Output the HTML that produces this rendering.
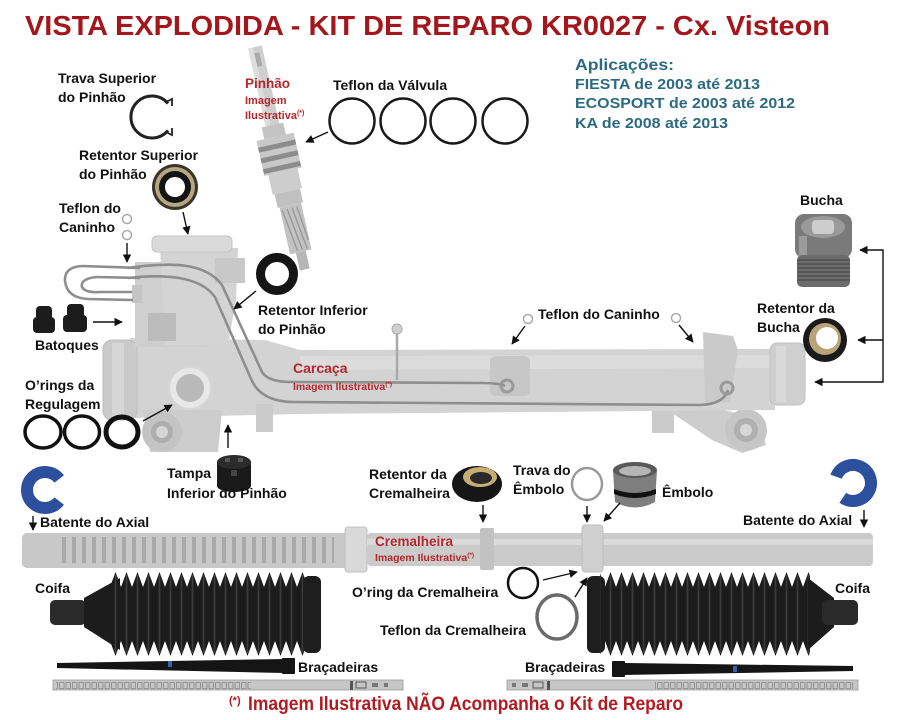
<!DOCTYPE html>
<html><head><meta charset="utf-8">
<style>
html,body{margin:0;padding:0;background:#fff;}
svg{display:block;}
.l{font-family:"Liberation Sans",sans-serif;font-weight:bold;font-size:14px;fill:#111;}
.r{font-family:"Liberation Sans",sans-serif;font-weight:bold;fill:#b3262b;}
.a{font-family:"Liberation Sans",sans-serif;font-weight:bold;fill:#2b6a80;}
.ar{stroke:#111;stroke-width:1.4;fill:none;marker-end:url(#ah);}
</style></head><body>
<svg width="897" height="720" viewBox="0 0 897 720" xmlns="http://www.w3.org/2000/svg">
<defs>
<marker id="ah" viewBox="0 0 10 10" refX="9" refY="5" markerWidth="6" markerHeight="6" orient="auto-start-reverse"><path d="M0,0 L10,5 L0,10 z" fill="#111"/></marker>
<pattern id="bel" patternUnits="userSpaceOnUse" x="0" y="572" width="11" height="84">
 <polygon points="0,15 5.5,0 11,15 11,69 5.5,84 0,69" fill="#1b1b1b"/>
 <line x1="5.5" y1="3" x2="5.5" y2="81" stroke="#3d3d3d" stroke-width="1.6"/>
</pattern>
<pattern id="teeth" patternUnits="userSpaceOnUse" x="0" y="0" width="10" height="40">
 <rect x="0" y="0" width="10" height="40" fill="#c9c9c9"/>
 <rect x="2" y="0" width="4" height="40" fill="#a9a9a9"/>
</pattern>
<pattern id="holes" patternUnits="userSpaceOnUse" x="0" y="681" width="6.5" height="10">
 <rect x="1" y="1.5" width="4.5" height="6" fill="none" stroke="#8a8a8a" stroke-width="0.8"/>
</pattern>
</defs>

<!-- TITLE -->
<text x="25" y="35" font-family="Liberation Sans, sans-serif" font-weight="bold" font-size="28" fill="#a3161b" textLength="805" lengthAdjust="spacingAndGlyphs">VISTA EXPLODIDA - KIT DE REPARO KR0027 - Cx. Visteon</text>

<!-- APLICACOES -->
<text class="a" x="575" y="70" font-size="16" textLength="99" lengthAdjust="spacingAndGlyphs">Aplicações:</text>
<text class="a" x="575" y="89" font-size="14.5" textLength="185" lengthAdjust="spacingAndGlyphs">FIESTA de 2003 até 2013</text>
<text class="a" x="575" y="108" font-size="14.5" textLength="220" lengthAdjust="spacingAndGlyphs">ECOSPORT de 2003 até 2012</text>
<text class="a" x="575" y="128" font-size="14.5" textLength="153" lengthAdjust="spacingAndGlyphs">KA de 2008 até 2013</text>

<!-- HOUSING -->
<g>
 <polygon points="660,405 700,405 760,418 766,445 742,453 712,440" fill="#cdcdcd"/>
 <circle cx="746" cy="430" r="21" fill="#c6c6c6"/>
 <circle cx="746" cy="430" r="12" fill="#b0b0b0"/>
 <circle cx="746" cy="430" r="6" fill="#d8d8d8"/>
 <rect x="652" y="405" width="22" height="28" fill="#cbcbcb"/>
 <polygon points="130,338 265,340 300,350 775,349 775,410 300,414 130,418" fill="#d3d3d3"/>
 <polygon points="300,356 775,355 775,368 300,370" fill="#dcdcdc"/>
 <polygon points="703,332 733,336 738,350 730,402 705,402" fill="#cacaca"/>
 <rect x="490" y="356" width="40" height="40" rx="6" fill="#c7c7c7"/>
 <rect x="770" y="343" width="35" height="62" rx="7" fill="#cfcfcf" stroke="#c2c2c2"/>
 <rect x="776" y="346" width="10" height="56" fill="#d9d9d9"/>
 <polygon points="143,410 222,410 218,452 150,452" fill="#cccccc"/>
 <circle cx="162" cy="432" r="20" fill="#c4c4c4"/>
 <circle cx="162" cy="432" r="11" fill="#adadad"/>
 <circle cx="162" cy="432" r="6" fill="#d6d6d6"/>
 <rect x="256" y="404" width="17" height="28" fill="#cbcbcb"/>
 <rect x="103" y="340" width="34" height="80" rx="9" fill="#cacaca" stroke="#bdbdbd"/>
 <rect x="112" y="343" width="12" height="74" fill="#d6d6d6"/>
 <!-- tower -->
 <rect x="135" y="262" width="72" height="85" fill="#cfcfcf"/>
 <polygon points="160,248 238,248 236,300 228,345 165,345" fill="#d4d4d4"/>
 <rect x="152" y="236" width="80" height="16" rx="5" fill="#dadada" stroke="#c4c4c4"/>
 <rect x="215" y="258" width="30" height="25" fill="#c8c8c8"/>
 <rect x="148" y="313" width="28" height="28" fill="#bcbcbc"/>
 <rect x="132" y="285" width="10" height="18" fill="#c4c4c4"/>
 <!-- adjuster port -->
 <circle cx="190" cy="388" r="21" fill="#e8e8e8" stroke="#d6d6d6" stroke-width="2"/>
 <circle cx="190" cy="388" r="14" fill="#b9b9b9"/>
 <!-- pipes -->
 <g fill="none" stroke="#8e8e8e" stroke-width="2.6">
  <path d="M140,268 L82,266 Q64,267 65,281 Q67,298 88,299 L133,300"/>
  <path d="M140,278 L96,277 Q80,279 82,287 Q85,293 100,292 L132,292"/>
  <path d="M128,268 C170,262 205,262 222,285 L262,372 Q268,382 292,382 L480,383 Q500,383 505,386"/>
  <path d="M128,278 C165,274 200,276 215,297 L252,381 Q262,402 295,402 L700,405 Q724,404 728,390"/>
 </g>
 <circle cx="507" cy="386" r="6" fill="none" stroke="#999" stroke-width="3"/>
 <circle cx="727" cy="388" r="6" fill="none" stroke="#999" stroke-width="3"/>
 <line x1="397" y1="332" x2="397" y2="380" stroke="#aaa" stroke-width="2.5"/>
 <circle cx="397" cy="329" r="5" fill="#d0d0d0" stroke="#aaa"/>
</g>

<!-- PINION -->
<g transform="translate(255,47) rotate(-12.6)">
 <rect x="-7" y="0" width="14" height="85" fill="#cfcfcf"/>
 <rect x="-7" y="0" width="5" height="85" fill="#dedede"/>
 <rect x="-2" y="6" width="5" height="14" fill="#aaaaaa"/>
 <rect x="-11" y="80" width="22" height="12" fill="#c3c3c3"/>
 <rect x="-19" y="92" width="38" height="36" fill="#c8c8c8"/>
 <rect x="-19" y="99" width="38" height="5" fill="#8c8c8c"/>
 <rect x="-19" y="110" width="38" height="5" fill="#8c8c8c"/>
 <rect x="-19" y="121" width="38" height="5" fill="#8c8c8c"/>
 <rect x="-15" y="128" width="30" height="20" fill="#cdcdcd"/>
 <rect x="-13" y="148" width="26" height="14" fill="#c0c0c0"/>
 <rect x="-11" y="162" width="22" height="48" fill="#c2c2c2"/>
 <g stroke="#999" stroke-width="1.4">
  <line x1="-9" y1="165" x2="-3" y2="208"/><line x1="-4" y1="165" x2="2" y2="208"/>
  <line x1="1" y1="165" x2="7" y2="208"/><line x1="6" y1="165" x2="10" y2="200"/>
 </g>
 <rect x="-5" y="210" width="10" height="18" fill="#b6b6b6"/>
</g>

<!-- TOP-LEFT PARTS -->
<text class="l" x="58" y="83">Trava Superior</text>
<text class="l" x="58" y="102">do Pinhão</text>
<path d="M168,103.5 A21,21 0 1 0 168,130.5" fill="none" stroke="#222" stroke-width="3"/>
<path d="M166,102 L172,99 L172,106" fill="none" stroke="#222" stroke-width="1.8"/>
<path d="M166,132 L172,135 L172,128" fill="none" stroke="#222" stroke-width="1.8"/>

<text class="l" x="79" y="160">Retentor Superior</text>
<text class="l" x="79" y="179">do Pinhão</text>
<circle cx="175" cy="187" r="23" fill="#3a3528"/>
<circle cx="175" cy="187" r="20" fill="#b5a684"/>
<circle cx="175" cy="187" r="16" fill="#141414"/>
<circle cx="175" cy="187" r="10" fill="#fff"/>
<line class="ar" x1="183" y1="212" x2="188" y2="234"/>

<text class="l" x="59" y="213">Teflon do</text>
<text class="l" x="59" y="232">Caninho</text>
<circle cx="127" cy="219" r="4.5" fill="none" stroke="#aaa" stroke-width="1.5"/>
<circle cx="127" cy="235" r="4.5" fill="none" stroke="#aaa" stroke-width="1.5"/>
<line class="ar" x1="127" y1="243" x2="127" y2="262"/>

<!-- Batoques -->
<rect x="36" y="306" width="16" height="14" rx="4" fill="#1c1c1c"/>
<rect x="33" y="317" width="22" height="16" rx="4" fill="#1c1c1c"/>
<rect x="67" y="304" width="17" height="14" rx="4" fill="#1c1c1c"/>
<rect x="63" y="315" width="24" height="17" rx="4" fill="#1c1c1c"/>
<text class="l" x="35" y="350">Batoques</text>
<line class="ar" x1="93" y1="322" x2="122" y2="322"/>

<!-- O-rings regulagem -->
<text class="l" x="25" y="390">O’rings da</text>
<text class="l" x="25" y="409">Regulagem</text>
<ellipse cx="43" cy="432" rx="18" ry="16" fill="none" stroke="#111" stroke-width="3.5"/>
<ellipse cx="82" cy="432" rx="17.5" ry="16" fill="none" stroke="#111" stroke-width="3.5"/>
<ellipse cx="122" cy="432" rx="16" ry="15" fill="none" stroke="#111" stroke-width="5"/>
<line class="ar" x1="143" y1="421" x2="172" y2="405"/>

<!-- Tampa -->
<line class="ar" x1="228" y1="448" x2="228" y2="425"/>
<rect x="217" y="462" width="34" height="24" fill="#1a1a1a"/>
<ellipse cx="234" cy="486" rx="17" ry="6" fill="#1a1a1a"/>
<ellipse cx="234" cy="462" rx="17" ry="7" fill="#2c2c2c"/>
<rect x="225" y="458" width="5" height="4" fill="#555"/>
<rect x="238" y="458" width="5" height="4" fill="#555"/>
<rect x="231" y="470" width="6" height="6" fill="#444"/>
<text class="l" x="167" y="478">Tampa</text>
<text class="l" x="167" y="498">Inferior do Pinhão</text>

<!-- Retentor inferior -->
<circle cx="277" cy="274" r="16.5" fill="none" stroke="#151515" stroke-width="9"/>
<line class="ar" x1="256" y1="291" x2="234" y2="309"/>
<text class="l" x="258" y="315">Retentor Inferior</text>
<text class="l" x="258" y="334">do Pinhão</text>

<!-- Pinhão labels -->
<text class="r" x="245" y="88" font-size="13.5">Pinhão</text>
<text class="r" x="245" y="104" font-size="11">Imagem</text>
<text class="r" x="245" y="119" font-size="11">Ilustrativa<tspan font-size="7" dy="-4">(*)</tspan></text>

<!-- Teflon da valvula -->
<text class="l" x="333" y="90">Teflon da Válvula</text>
<g fill="none" stroke="#1a1a1a" stroke-width="2.5">
 <circle cx="352" cy="121" r="22.5"/><circle cx="403" cy="121" r="22.5"/>
 <circle cx="453" cy="121" r="22.5"/><circle cx="505" cy="121" r="22.5"/>
</g>
<line class="ar" x1="328" y1="132" x2="306" y2="142"/>

<!-- Carcaça label -->
<text class="r" x="293" y="373" font-size="14">Carcaça</text>
<text class="r" x="293" y="390" font-size="10.5">Imagem Ilustrativa<tspan font-size="6.5" dy="-4">(*)</tspan></text>

<!-- RIGHT TOP: Bucha -->
<text class="l" x="800" y="205">Bucha</text>
<rect x="795" y="214" width="57" height="44" rx="9" fill="#7a7a7a"/>
<ellipse cx="823" cy="227" rx="22" ry="11" fill="#9a9a9a"/>
<rect x="812" y="220" width="22" height="14" rx="4" fill="#cdcdcd"/>
<rect x="799" y="236" width="8" height="20" fill="#9b9b9b"/>
<rect x="797" y="255" width="53" height="32" rx="5" fill="#6c6c6c"/>
<g stroke="#484848" stroke-width="1.3">
 <line x1="797" y1="260" x2="850" y2="260"/><line x1="797" y1="264" x2="850" y2="264"/>
 <line x1="797" y1="268" x2="850" y2="268"/><line x1="797" y1="272" x2="850" y2="272"/>
 <line x1="797" y1="276" x2="850" y2="276"/><line x1="797" y1="280" x2="850" y2="280"/>
</g>

<text class="l" x="757" y="313">Retentor da</text>
<text class="l" x="757" y="332">Bucha</text>
<circle cx="825" cy="340" r="22" fill="#1a1a1a"/>
<circle cx="825" cy="339" r="16" fill="#b9a47a"/>
<circle cx="827" cy="338" r="11" fill="#fff"/>

<polyline points="860,250 883,250 883,382 815,382" style="stroke:#111;stroke-width:1.4;fill:none;marker-start:url(#ah);marker-end:url(#ah)"/>
<line class="ar" x1="883" y1="340" x2="858" y2="340"/>

<!-- Teflon do Caninho right -->
<text class="l" x="538" y="319">Teflon do Caninho</text>
<circle cx="528" cy="319" r="4.5" fill="none" stroke="#aaa" stroke-width="1.5"/>
<circle cx="676" cy="318" r="4.5" fill="none" stroke="#aaa" stroke-width="1.5"/>
<line class="ar" x1="525" y1="326" x2="512" y2="344"/>
<line class="ar" x1="679" y1="325" x2="693" y2="342"/>

<!-- Blue C left -->
<path d="M59.2,478.9 A18,18 0 1 0 59.2,501.1" fill="none" stroke="#2c4f9e" stroke-width="12"/>
<line class="ar" x1="33" y1="516" x2="33" y2="530"/>
<text class="l" x="40" y="527">Batente do Axial</text>

<!-- Blue C right -->
<path d="M836.1,476.7 A18,18 0 1 1 842.8,497.8" fill="none" stroke="#2c4f9e" stroke-width="12"/>
<text class="l" x="743" y="525">Batente do Axial</text>
<line class="ar" x1="864" y1="510" x2="864" y2="527"/>

<!-- RACK -->
<rect x="22" y="533" width="330" height="35" rx="5" fill="#c8c8c8"/>
<rect x="62" y="537" width="272" height="26" fill="url(#teeth)"/>
<rect x="345" y="527" width="22" height="45" rx="3" fill="#d9d9d9" stroke="#c0c0c0"/>
<rect x="367" y="533" width="506" height="33" rx="4" fill="#cbcbcb"/>
<rect x="367" y="539" width="506" height="6" fill="#dadada"/>
<rect x="480" y="528" width="14" height="42" rx="2" fill="#c2c2c2"/>
<rect x="582" y="525" width="21" height="47" rx="3" fill="#cfcfcf" stroke="#bdbdbd"/>
<text class="r" x="375" y="546" font-size="13.5">Cremalheira</text>
<text class="r" x="375" y="561" font-size="10.5">Imagem Ilustrativa<tspan font-size="6.5" dy="-4">(*)</tspan></text>

<!-- Retentor da Cremalheira -->
<text class="l" x="369" y="479">Retentor da</text>
<text class="l" x="369" y="498">Cremalheira</text>
<ellipse cx="477" cy="484" rx="25" ry="18" fill="#161616"/>
<ellipse cx="480" cy="477" rx="17" ry="10" fill="#c6ad72"/>
<ellipse cx="481" cy="478" rx="11" ry="6" fill="#2a2a2a"/>
<line class="ar" x1="483" y1="505" x2="483" y2="522"/>

<!-- Trava do Embolo -->
<text class="l" x="513" y="475">Trava do</text>
<text class="l" x="513" y="494">Êmbolo</text>
<ellipse cx="587" cy="484" rx="15" ry="16" fill="none" stroke="#9a9a9a" stroke-width="2.5"/>
<line class="ar" x1="587" y1="506" x2="587" y2="522"/>

<!-- Embolo -->
<path d="M613,470 L657,470 L655,502 Q635,513 615,502 Z" fill="#7e7e7e"/>
<ellipse cx="635" cy="470" rx="22" ry="8" fill="#595959"/>
<ellipse cx="635" cy="471" rx="16" ry="5" fill="#b5b5b5"/>
<path d="M614,489 Q635,497 656,489 L656,494 Q635,502 614,494Z" fill="#111"/>
<text class="l" x="662" y="497">Êmbolo</text>
<line class="ar" x1="620" y1="503" x2="604" y2="521"/>

<!-- O-ring / Teflon da cremalheira -->
<text class="l" x="352" y="597">O’ring da Cremalheira</text>
<circle cx="523" cy="583" r="15" fill="none" stroke="#111" stroke-width="2.5"/>
<line class="ar" x1="543" y1="580" x2="577" y2="572"/>
<text class="l" x="380" y="635">Teflon da Cremalheira</text>
<ellipse cx="557" cy="617" rx="20" ry="22" fill="none" stroke="#6a6a6a" stroke-width="3.5"/>
<line class="ar" x1="575" y1="597" x2="587" y2="578"/>

<!-- COIFA LEFT -->
<text class="l" x="35" y="593">Coifa</text>
<rect x="50" y="600" width="36" height="25" rx="5" fill="#2a2a2a"/>
<polygon points="84,598 120,578 120,650 84,627" fill="#1c1c1c"/>
<rect x="110" y="572" width="198" height="84" fill="url(#bel)"/>
<rect x="303" y="576" width="18" height="77" rx="6" fill="#1e1e1e"/>

<!-- COIFA RIGHT -->
<text class="l" x="835" y="593">Coifa</text>
<rect x="587" y="576" width="18" height="77" rx="6" fill="#1e1e1e"/>
<rect x="600" y="572" width="210" height="84" fill="url(#bel)"/>
<polygon points="808,578 834,598 834,627 808,650" fill="#1c1c1c"/>
<rect x="822" y="600" width="36" height="25" rx="5" fill="#2a2a2a"/>

<!-- Braçadeiras left -->
<polygon points="57,663 284,659 284,673 57,668" fill="#151515"/>
<rect x="282" y="658" width="13" height="16" rx="1" fill="#151515"/>
<rect x="168" y="661" width="4" height="6" fill="#3b5ea8"/>
<text class="l" x="298" y="672">Braçadeiras</text>
<rect x="53" y="680" width="350" height="10" fill="#c6c6c6" stroke="#9c9c9c" stroke-width="0.8"/>
<rect x="56" y="681" width="195" height="9" fill="url(#holes)"/>
<rect x="350" y="681" width="3" height="9" fill="#555"/>
<rect x="356" y="682" width="10" height="6" fill="none" stroke="#555" stroke-width="1"/>
<rect x="372" y="683" width="6" height="4" fill="#777"/>
<rect x="384" y="683" width="4" height="4" fill="#777"/>

<!-- Braçadeiras right -->
<text class="l" x="525" y="672">Braçadeiras</text>
<rect x="612" y="661" width="13" height="16" rx="1" fill="#151515"/>
<polygon points="624,663 853,666 853,671 624,675" fill="#151515"/>
<rect x="733" y="666" width="4" height="6" fill="#3b5ea8"/>
<rect x="507" y="680" width="351" height="10" fill="#c6c6c6" stroke="#9c9c9c" stroke-width="0.8"/>
<rect x="655" y="681" width="198" height="9" fill="url(#holes)"/>
<rect x="512" y="683" width="4" height="4" fill="#777"/>
<rect x="522" y="683" width="6" height="4" fill="#777"/>
<rect x="533" y="682" width="10" height="6" fill="none" stroke="#555" stroke-width="1"/>
<rect x="547" y="681" width="3" height="9" fill="#555"/>

<!-- FOOTER -->
<text x="229" y="704" font-family="Liberation Sans, sans-serif" font-weight="bold" font-size="11" fill="#b01c22">(*)</text>
<text x="248" y="710" font-family="Liberation Sans, sans-serif" font-weight="bold" font-size="19" fill="#b01c22" textLength="435" lengthAdjust="spacingAndGlyphs">Imagem Ilustrativa NÃO Acompanha o Kit de Reparo</text>
</svg>
</body></html>
